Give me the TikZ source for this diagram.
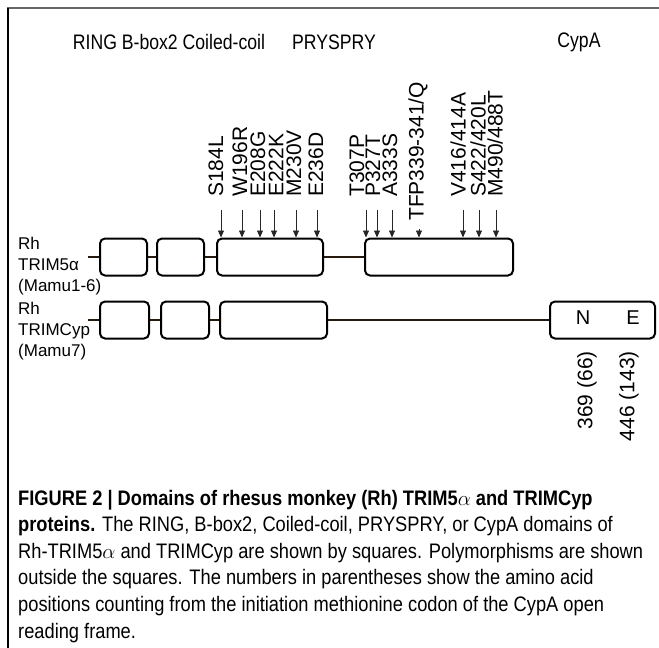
\documentclass[tikz,border=0pt]{standalone}
\usepackage{fontspec}
\setmainfont{Liberation Sans}
\newfontfamily\narrowfont[FakeStretch=0.87]{Liberation Sans}
\newfontfamily\headfont[FakeStretch=0.84]{Liberation Sans}
\usetikzlibrary{arrows.meta}

\newcommand*{\rowA}{257}
\newcommand*{\rowB}{320}
\newcommand*{\shafttop}{210}
\newcommand*{\labbase}{197}

\tikzset{
  dombox/.style={draw=black, line width=2pt, rounded corners=5pt, minimum height=37pt, inner sep=0pt},
  link/.style={draw=black!80!brown, line width=1.6pt},
  mutarrow/.style={-{Triangle[length=7pt,width=6pt]}, line width=0.8pt, draw=black!85},
  mutlabel/.style={rotate=90, anchor=west, inner sep=0pt, font=\fontsize{21}{21}\selectfont},
  numlabel/.style={rotate=90, anchor=east, inner sep=0pt, font=\fontsize{21}{21}\selectfont},
  headtext/.style={inner sep=0pt, font=\headfont\fontsize{21}{21}\selectfont},
  rowlabel/.style={anchor=west, align=left, inner sep=0pt, font=\fontsize{17}{21}\selectfont},
  captext/.style={anchor=base west, inner sep=0pt, font=\narrowfont\fontsize{21}{21}\selectfont}
}

\begin{document}
\begin{tikzpicture}[x=1pt,y=-1pt]

	\useasboundingbox (0,0) rectangle (659,648);

	% frame
	\draw[black!60, line width=1.8pt] (7,8) -- (659,8);
	\draw[black, line width=1.5pt] (8,8) -- (8,648);

	% domain names
	\node[headtext] (hcore) at (169,42) {RING B-box2 Coiled-coil};
	\node[headtext] (hspry) at (334,42) {PRYSPRY};
	\node[headtext] (hcyp) at (579,42) {CypA};

	% Rh TRIM5a
	\node[rowlabel] (nameA) at (18,266) {Rh\\TRIM5α\\(Mamu1-6)};
	\coordinate (startA) at (88,\rowA);
	\node[dombox, minimum width=47pt] (ringA) at (123.5,\rowA) {};
	\node[dombox, minimum width=47pt] (bboxA) at (180.5,\rowA) {};
	\node[dombox, minimum width=106pt] (coilA) at (270,\rowA) {};
	\node[dombox, minimum width=148pt] (pryA) at (439,\rowA) {};
	\draw[link] (startA) -- (ringA) (ringA) -- (bboxA) (bboxA) -- (coilA) (coilA) -- (pryA);

	% Rh TRIMCyp
	\node[rowlabel] (nameB) at (18,331) {Rh\\TRIMCyp\\(Mamu7)};
	\coordinate (startB) at (88,\rowB);
	\node[dombox, minimum width=49pt] (ringB) at (124.5,\rowB) {};
	\node[dombox, minimum width=48pt] (bboxB) at (185,\rowB) {};
	\node[dombox, minimum width=107pt] (coilB) at (273.5,\rowB) {};
	\node[dombox, minimum width=105pt] (cypB) at (602.5,\rowB) {};
	\draw[link] (startB) -- (ringB) (ringB) -- (bboxB) (bboxB) -- (coilB) (coilB) -- (cypB);
	\node[inner sep=0pt, font=\fontsize{20}{20}\selectfont] (ntail) at (583,318) {N};
	\node[inner sep=0pt, font=\fontsize{20}{20}\selectfont] (etail) at (633,318) {E};
	\node[numlabel] (posN) at (587,351) {369 (66)};
	\node[numlabel] (posE) at (629,351) {446 (143)};

	% polymorphisms
	\foreach \n/\x/\lx/\t in {1/221/216/S184L, 2/242/240/W196R, 3/260/258/E208G,
	    4/274/276/E222K, 5/296/294/M230V, 6/317/316/E236D}{
	  \coordinate (mc\n) at (\x,\shafttop);
	  \draw[mutarrow] (mc\n) -- (mc\n |- coilA.north);
	  \node[mutlabel] (lc\n) at (\lx,\labbase) {\t};
	}
	\foreach \n/\x/\lx/\t in {1/366/357/{T307P}, 2/377/373/{P327T}, 3/392/390/{A333S},
	    4/463/458/{V416/414A}, 5/479/478/{S422/420L}, 6/496/495/{M490/488T}}{
	  \coordinate (mp\n) at (\x,\shafttop);
	  \draw[mutarrow] (mp\n) -- (mp\n |- pryA.north);
	  \node[mutlabel] (lp\n) at (\lx,\labbase) {\t};
	}
	\coordinate (mtfp) at (419,229);
	\draw[mutarrow] (mtfp) -- (mtfp |- pryA.north);
	\node[mutlabel] (ltfp) at (418,221) {TFP339-341/Q};

	% caption
	\node[captext] (cap1) at (18,505) {\bfseries FIGURE 2 | Domains of rhesus monkey (Rh) TRIM5$\alpha$ and TRIMCyp};
	\node[captext] (cap2) at (18,531.6) {\textbf{proteins.} The RING, B-box2, Coiled-coil, PRYSPRY, or CypA domains of};
	\node[captext] (cap3) at (18,558.2) {Rh-TRIM5$\alpha$ and TRIMCyp are shown by squares. Polymorphisms are shown};
	\node[captext] (cap4) at (18,584.8) {outside the squares. The numbers in parentheses show the amino acid};
	\node[captext] (cap5) at (18,611.4) {positions counting from the initiation methionine codon of the CypA open};
	\node[captext] (cap6) at (18,638) {reading frame.};

\end{tikzpicture}
\end{document}
